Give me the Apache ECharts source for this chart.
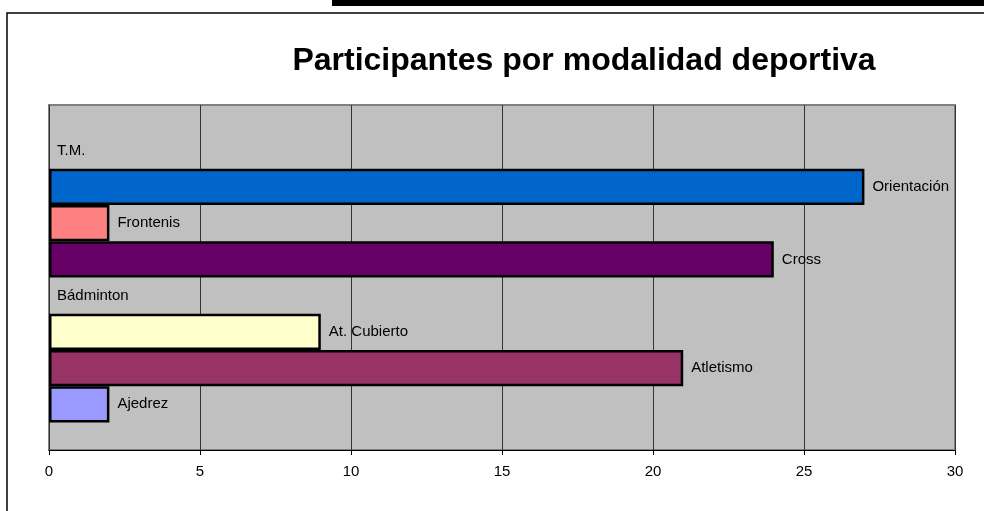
<!DOCTYPE html>
<html>
<head>
<meta charset="utf-8">
<script src="https://cdn.jsdelivr.net/npm/echarts@6/dist/echarts.min.js"></script>
<style>
html,body{margin:0;padding:0;background:#fff;}
#chart{width:984px;height:511px;}
</style>
</head>
<body>
<div id="chart"></div>
<script>
// Data (Excel-style: one category, one series per sport; first series at bottom)
const titleText = 'Participantes por modalidad deportiva';
const sports = ['Ajedrez', 'Atletismo', 'At. Cubierto', 'Bádminton', 'Cross', 'Frontenis', 'Orientación', 'T.M.'];
const participants = [2, 21, 9, 0, 24, 2, 27, 0];
const xTicks = [0, 5, 10, 15, 20, 25, 30];

const palette = ['#9999FF', '#993366', '#FFFFCC', '#CCFFFF', '#660066', '#FF8080', '#0066CC', '#CCCCFF'];

const chart = echarts.init(document.getElementById('chart'), null, {renderer: 'canvas'});
const font = 'Liberation Sans, Arial, sans-serif';

// ECharts stacks series top-to-bottom within a horizontal band, so add them in reverse order
const order = sports.map((_, i) => i).reverse();
const series = order.map(i => ({
  type: 'bar',
  name: sports[i],
  data: [participants[i]],
  barGap: '0%',
  barCategoryGap: '16%',
  itemStyle: {color: palette[i], borderColor: '#000', borderWidth: participants[i] === 0 ? 0 : 2.5},
  label: {
    show: true, position: 'right', distance: 8,
    formatter: '{a}', color: '#000', fontFamily: font, fontSize: 15
  },
  emphasis: {disabled: true},
  animation: false
}));

chart.setOption({
  animation: false,
  graphic: [
    {type: 'rect', shape: {x: 332, y: 0, width: 660, height: 6}, style: {fill: '#000'}},
    {type: 'rect', shape: {x: 7, y: 13, width: 1000, height: 520}, style: {fill: 'none', stroke: '#000', lineWidth: 1.5}},
    {type: 'text', x: 584, y: 61, style: {text: titleText, font: 'bold 32px ' + font, fill: '#000', textAlign: 'center', textVerticalAlign: 'middle'}}
  ],
  grid: {
    left: 49, right: 29, top: 105, bottom: 61,
    show: true, backgroundColor: '#c0c0c0', borderColor: '#808080', borderWidth: 2,
    containLabel: false
  },
  xAxis: {
    type: 'value', min: xTicks[0], max: xTicks[xTicks.length - 1], interval: xTicks[1] - xTicks[0],
    axisLine: {show: true, lineStyle: {color: '#000', width: 1}},
    axisTick: {show: true, length: 5, lineStyle: {color: '#000'}},
    axisLabel: {color: '#000', fontFamily: font, fontSize: 15, margin: 14},
    splitLine: {show: true, lineStyle: {color: '#333', width: 1}}
  },
  yAxis: {
    type: 'category', data: [''],
    axisLine: {show: false}, axisTick: {show: false}, axisLabel: {show: false}, splitLine: {show: false}
  },
  series: series
});
</script>
</body>
</html>
